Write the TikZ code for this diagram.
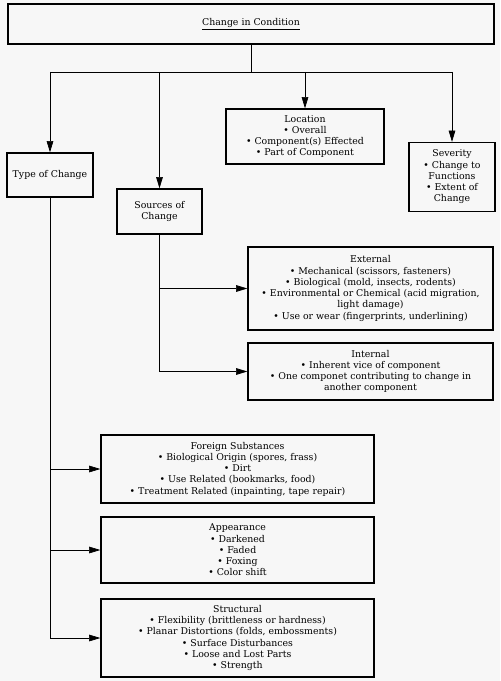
\documentclass[tikz,border=0pt]{standalone}
\usepackage{fontspec}
\setmainfont{DejaVu Serif}
\usetikzlibrary{positioning,arrows.meta}

\begin{document}
\begin{tikzpicture}[
        x=0.03cm, y=-0.03cm,
        box/.style={draw, line width=1.1pt, align=center, inner sep=2pt, font=\fontsize{8}{9.6}\selectfont},
        topbox/.style={box, line width=1.3pt, minimum width=14.58cm, minimum height=1.2cm},
        link/.style={-{Triangle[length=3.4mm, width=2mm]}, line width=0.6pt},
        bus/.style={line width=0.6pt}
    ]
        \fill[gray!6] (0,0) rectangle (500,681);
        \useasboundingbox (0,0) rectangle (500,681);

        \node[topbox] (cond) at (251,24) {\underline{Change in Condition}};

        \node[box, minimum width=4.74cm, minimum height=1.65cm] (loc) at (305,136.5) {
            Location\\
            \textbullet\ Overall\\
            \textbullet\ Component(s) Effected\\
            \textbullet\ Part of Component
        };

        \node[box, minimum width=2.58cm, minimum height=2.07cm] (sev) at (452,177) {
            Severity\\
            \textbullet\ Change to\\
            Functions\\
            \textbullet\ Extent of\\
            Change
        };

        \node[box, minimum width=2.58cm, minimum height=1.32cm] (type) at (50,175) {Type of Change};

        \node[box, minimum width=2.55cm, minimum height=1.35cm] (src) at (159.5,211.5) {
            Sources of\\
            Change
        };

        \node[box, minimum width=7.35cm, minimum height=2.49cm] (ext) at (370.5,288.5) {
            External\\
            \textbullet\ Mechanical (scissors, fasteners)\\
            \textbullet\ Biological (mold, insects, rodents)\\
            \textbullet\ Environmental or Chemical (acid migration,\\
            light damage)\\
            \textbullet\ Use or wear (fingerprints, underlining)
        };

        \node[box, minimum width=7.35cm, minimum height=1.71cm] (int) at (370.5,371.5) {
            Internal\\
            \textbullet\ Inherent vice of component\\
            \textbullet\ One componet contributing to change in\\
            another component
        };

        \node[box, minimum width=8.19cm, minimum height=2.04cm] (fgn) at (237.5,469) {
            Foreign Substances\\
            \textbullet\ Biological Origin (spores, frass)\\
            \textbullet\ Dirt\\
            \textbullet\ Use Related (bookmarks, food)\\
            \textbullet\ Treatment Related (inpainting, tape repair)
        };

        \node[box, minimum width=8.19cm, minimum height=1.98cm] (app) at (237.5,550) {
            Appearance\\
            \textbullet\ Darkened\\
            \textbullet\ Faded\\
            \textbullet\ Foxing\\
            \textbullet\ Color shift
        };

        \node[box, minimum width=8.19cm, minimum height=2.34cm] (str) at (237.5,638) {
            Structural\\
            \textbullet\ Flexibility (brittleness or hardness)\\
            \textbullet\ Planar Distortions (folds, embossments)\\
            \textbullet\ Surface Disturbances\\
            \textbullet\ Loose and Lost Parts\\
            \textbullet\ Strength
        };

        \coordinate (hub) at (251,72);
        \draw[bus] (cond.south) -- (hub);
        \draw[bus] (type.north |- hub) -- (sev.north |- hub);
        \draw[link] (type.north |- hub) -- (type.north);
        \draw[link] (src.north |- hub) -- (src.north);
        \draw[link] (loc.north |- hub) -- (loc.north);
        \draw[link] (sev.north |- hub) -- (sev.north);

        \draw[bus] (src.south) -- (src.south |- int.west);
        \draw[link] (src.south |- ext.west) -- (ext.west);
        \draw[link] (src.south |- int.west) -- (int.west);

        \draw[bus] (type.south) -- (type.south |- str.west);
        \draw[link] (type.south |- fgn.west) -- (fgn.west);
        \draw[link] (type.south |- app.west) -- (app.west);
        \draw[link] (type.south |- str.west) -- (str.west);
    \end{tikzpicture}
\end{document}
